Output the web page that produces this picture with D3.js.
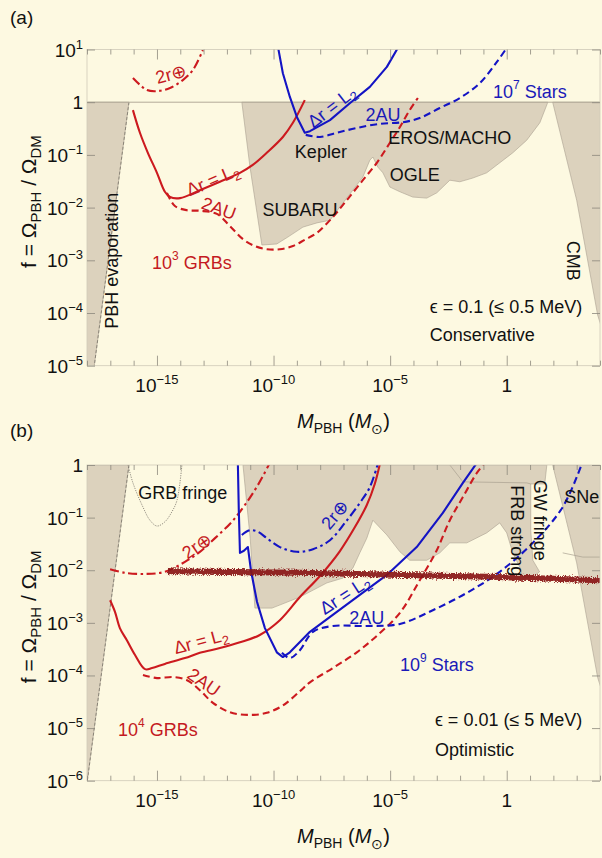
<!DOCTYPE html>
<html>
<head>
<meta charset="utf-8">
<script src="https://cdn.jsdelivr.net/npm/d3@7"></script>
<style>
  body { margin: 0; background: #fdf9e1; }
  svg { display: block; }
  text { font-family: "Liberation Sans", Arial, Helvetica, sans-serif; }
</style>
</head>
<body>
<svg id="chart" width="602" height="858"></svg>
<script>
// ---------- data: points are [log10 M/Msun, log10 f] ----------
const xTickExps = d3.range(-18, 5);
const xLabelExps = [-15, -10, -5, 0];
const yTickExpsA = [1, 0, -1, -2, -3, -4, -5];
const yTickExpsB = [0, -1, -2, -3, -4, -5, -6];

// excluded regions
const evaporation = [[-18, 0], [-16.2, 0], [-18, -6.05], [-18.5, -6.05], [-18.5, 0]];
const cmb = [[1.97, 0], [3.0, -1.86], [3.9, -4.04], [4.3, -4.6], [4.3, 0]];
const lensingA = [[-11.36, 0], [-11.01, -1.23], [-10.5, -2.71], [-9.86, -2.69], [-9.39, -2.56], [-8.74, -2.37],
  [-8.14, -2.29], [-7.58, -2.24], [-7.16, -1.99], [-6.6, -1.67], [-6.17, -1.42], [-5.87, -1.10], [-5.74, -1.04],
  [-5.53, -1.23], [-5.31, -1.34], [-5.01, -1.61], [-4.58, -1.70], [-4.03, -1.80], [-3.43, -1.82], [-3.0, -1.72],
  [-2.44, -1.48], [-2.01, -1.51], [-1.46, -1.44], [-0.86, -1.34], [-0.30, -1.15], [0.26, -0.96], [0.86, -0.72],
  [1.42, -0.39], [1.72, -0.05], [1.76, 0]];
const lensingB = [[-11.31, 0], [-11.0, -1.4], [-10.8, -2.72], [-10.07, -2.72], [-8.87, -2.51], [-7.71, -2.24],
  [-7.03, -2.15], [-6.6, -1.96], [-6.3, -1.67], [-6.0, -1.39], [-5.74, -1.05], [-5.14, -1.33], [-4.58, -1.65],
  [-4.16, -1.81], [-3.43, -1.81], [-2.87, -1.67], [-2.44, -1.48], [-1.71, -1.48], [-0.86, -1.29], [-0.30, -1.10],
  [0.0, -1.29], [0.26, -1.67], [0.56, -1.94], [0.69, -2.13], [1.12, -2.13], [1.41, -2.03], [1.12, -1.81],
  [1.03, -1.24], [1.03, -0.36], [1.63, -0.36], [1.72, 0]];
const upperBandEdge = [[-2.44, 0], [-1.88, -0.32], [0.86, -0.34], [1.03, -0.36]];
const sneEdge = [[2.40, -1.67], [3.26, -1.75], [4.0, -1.75]];
const grbFringe = [[-16.24, 0], [-16.03, -0.34], [-15.6, -0.80], [-15.3, -1.05], [-15.0, -1.16], [-14.66, -1.08],
  [-14.36, -0.89], [-14.14, -0.67], [-13.93, 0]];

// (a) conservative: 10^3 GRBs (red) and 10^7 stars (blue)
const redL2A = [[-16.03, -0.15], [-15.73, -0.58], [-15.39, -0.96], [-15.0, -1.34], [-14.66, -1.70], [-14.44, -1.80],
  [-14.01, -1.82], [-13.16, -1.67], [-12.30, -1.51], [-11.44, -1.34], [-10.89, -1.19], [-10.29, -0.96],
  [-9.60, -0.66], [-9.17, -0.39], [-8.66, 0.04]];
const red2AUA = [[-14.57, -1.72], [-14.23, -1.97], [-13.71, -2.05], [-13.16, -2.06], [-12.43, -2.12], [-11.87, -2.35],
  [-11.31, -2.60], [-10.80, -2.73], [-10.29, -2.79], [-9.73, -2.79], [-9.17, -2.73], [-8.66, -2.61], [-8.14, -2.48],
  [-7.46, -2.18], [-6.86, -1.86], [-6.17, -1.48], [-5.57, -1.15], [-5.01, -0.77], [-4.58, -0.47], [-4.16, -0.15],
  [-3.81, 0.08]];
const red2rA = [[-16.03, 0.46], [-15.73, 0.33], [-15.43, 0.23], [-15.0, 0.21], [-14.44, 0.27], [-13.89, 0.42],
  [-13.46, 0.61], [-13.03, 0.99]];
const blueL2A = [[-9.81, 1.05], [-9.60, 0.55], [-9.30, 0.10], [-9.0, -0.28], [-8.66, -0.58], [-8.44, -0.55],
  [-7.58, -0.34], [-6.73, -0.02], [-5.87, 0.29], [-5.14, 0.67], [-4.67, 1.03]];
const blue2AUA = [[-8.62, -0.62], [-8.01, -0.66], [-7.29, -0.58], [-6.43, -0.49], [-5.44, -0.41], [-4.46, -0.38],
  [-3.73, -0.30], [-2.87, -0.11], [-2.01, 0.08], [-1.16, 0.36], [-0.43, 0.76], [0.0, 1.03]];

// (b) optimistic: 10^4 GRBs (red) and 10^9 stars (blue)
const redL2B = [[-17.01, -2.57], [-16.80, -2.79], [-16.59, -3.10], [-16.29, -3.33], [-15.94, -3.61], [-15.51, -3.88],
  [-15.21, -3.86], [-14.66, -3.78], [-13.80, -3.67], [-13.16, -3.57], [-12.30, -3.48], [-11.44, -3.37],
  [-10.59, -3.23], [-9.73, -2.95], [-8.87, -2.51], [-8.01, -2.11], [-7.16, -1.64], [-6.51, -1.18], [-6.0, -0.76],
  [-5.66, -0.36], [-5.44, 0.02]];
const red2AUB = [[-15.60, -3.99], [-15.0, -4.05], [-14.31, -4.03], [-13.71, -4.09], [-13.16, -4.28], [-12.60, -4.52],
  [-11.87, -4.70], [-11.01, -4.75], [-10.29, -4.71], [-9.60, -4.57], [-8.87, -4.30], [-8.44, -4.13], [-7.46, -3.86],
  [-6.43, -3.56], [-5.53, -3.23], [-4.58, -2.81], [-3.73, -2.19], [-3.0, -1.62], [-2.44, -1.05], [-1.88, -0.61],
  [-1.28, -0.15], [-0.94, 0.04]];
const red2rB = [[-17.01, -1.98], [-16.37, -2.05], [-15.51, -2.07], [-14.66, -2.03], [-13.80, -1.84], [-13.16, -1.65],
  [-12.51, -1.39], [-11.79, -1.08], [-11.23, -0.76], [-10.67, -0.38], [-10.16, 0.04]];
const blueL2B = [[-11.53, 0.02], [-11.49, -0.86], [-11.44, -1.67], [-11.27, -1.63], [-11.1, -1.56], [-10.97, -2.0],
  [-10.71, -2.60], [-10.37, -3.10], [-9.86, -3.56], [-9.60, -3.65], [-9.30, -3.56], [-8.44, -3.17], [-7.46, -2.85],
  [-6.30, -2.47], [-5.14, -2.09], [-3.86, -1.56], [-2.74, -0.91], [-1.88, -0.34], [-1.28, 0.04]];
const blue2AUB = [[-9.64, -3.57], [-9.30, -3.67], [-8.87, -3.52], [-8.31, -3.17], [-7.46, -3.06], [-6.0, -3.06],
  [-4.58, -3.02], [-3.17, -2.76], [-1.71, -2.43], [-0.30, -2.03], [1.12, -1.48], [2.40, -0.80], [3.22, 0.02]];
const blue2rB = [[-11.36, -1.33], [-11.01, -1.24], [-10.67, -1.27], [-10.29, -1.39], [-9.73, -1.56], [-9.0, -1.65],
  [-8.31, -1.60], [-7.58, -1.43], [-6.94, -1.10], [-6.30, -0.72], [-5.87, -0.42], [-5.53, 0.02]];
const frbLimit = [[-14.53, -2.02], [-8.87, -2.05], [-0.30, -2.13], [4.0, -2.19]];

// ---------- styling ----------
const BG = "#fdf9e1", SHADE = "#dcd2bd", EDGE = "#a9a091";
const RED = "#cc1a1f", BLUE = "#1414c4", RED_TXT = "#c41a22", BLUE_TXT = "#1a1ab8", BAND = "#8a1414";
const DASH = "7,4", DASHDOT = "9,3.5,2.5,3.5";

const svg = d3.select("#chart");
svg.append("rect").attr("width", 602).attr("height", 858).attr("fill", BG);

const defs = svg.append("defs");
const grain = defs.append("filter").attr("id", "grain")
  .attr("x", "-5%").attr("y", "-200%").attr("width", "110%").attr("height", "500%");
grain.append("feTurbulence").attr("type", "fractalNoise").attr("baseFrequency", "0.9 0.7")
  .attr("numOctaves", 2).attr("seed", 4).attr("result", "noise");
grain.append("feDisplacementMap").attr("in", "SourceGraphic").attr("in2", "noise")
  .attr("scale", 6).attr("xChannelSelector", "R").attr("yChannelSelector", "G");

const x = d3.scaleLog().domain([1e-18, 1e4]).range([87, 600]);
const p10 = e => Math.pow(10, e);

function powLabel(sel, exp) {
  if (exp === 0) { sel.append("tspan").text("1"); return; }
  if (exp === 1) { sel.append("tspan").text("10"); sel.append("tspan").attr("dy", -8).attr("font-size", 13).text("1"); return; }
  sel.append("tspan").text("10");
  sel.append("tspan").attr("dy", -8).attr("font-size", 13).text("\u2212" + Math.abs(exp));
}

function drawPanel(cfg) {
  const y = d3.scaleLog().domain(cfg.yDomain).range([cfg.bottom, cfg.top]);
  const g = svg.append("g");
  const clipId = "clip-" + cfg.id;
  defs.append("clipPath").attr("id", clipId).append("rect")
    .attr("x", x.range()[0]).attr("y", cfg.top)
    .attr("width", x.range()[1] - x.range()[0]).attr("height", cfg.bottom - cfg.top);

  const px = d => x(p10(d[0])), py = d => y(p10(d[1]));
  const area = d3.line().x(px).y(py);
  const smooth = d3.line().x(px).y(py).curve(d3.curveCatmullRom.alpha(0.5));
  const plot = g.append("g").attr("clip-path", `url(#${clipId})`);

  // shaded exclusion regions
  cfg.regions.forEach(r => {
    plot.append("path").attr("d", area(r) + "Z").attr("fill", SHADE)
      .attr("stroke", EDGE).attr("stroke-width", 0.6);
  });
  // evaporation edge is dashed
  plot.append("path").attr("d", area([evaporation[1], evaporation[2]]))
    .attr("fill", "none").attr("stroke", "#6f6a60").attr("stroke-width", 0.7).attr("stroke-dasharray", "3,2");
  (cfg.edges || []).forEach(e => {
    plot.append("path").attr("d", (e.smooth ? smooth : area)(e.pts)).attr("fill", "none")
      .attr("stroke", e.color || EDGE).attr("stroke-width", e.width || 0.7)
      .attr("stroke-dasharray", e.dash || null);
  });
  if (cfg.unityLine) {
    plot.append("line").attr("x1", x.range()[0]).attr("x2", x.range()[1])
      .attr("y1", y(1)).attr("y2", y(1)).attr("stroke", "#b3aa98").attr("stroke-width", 1);
  }

  // sensitivity curves
  cfg.curves.forEach(c => {
    plot.append("path").attr("d", (c.sharp ? area : smooth)(c.pts))
      .attr("fill", "none").attr("stroke", c.color).attr("stroke-width", 2.1)
      .attr("stroke-dasharray", c.dash || null).attr("stroke-linejoin", "round");
  });
  if (cfg.band) {
    plot.append("path").attr("d", area(cfg.band)).attr("fill", "none")
      .attr("stroke", BAND).attr("stroke-width", 6).attr("opacity", 0.92).attr("filter", "url(#grain)");
  }

  // frame and ticks
  const [x0, x1] = x.range();
  g.append("rect").attr("x", x0).attr("y", cfg.top).attr("width", x1 - x0).attr("height", cfg.bottom - cfg.top)
    .attr("fill", "none").attr("stroke", "#cfcab8").attr("stroke-width", 0.8);
  const tickColor = "#8c887c";
  const major = xTickExps.filter(e => xLabelExps.includes(e)).map(p10);
  const minor = xTickExps.filter(e => !xLabelExps.includes(e)).map(p10);
  [[d3.axisBottom, cfg.bottom], [d3.axisTop, cfg.top]].forEach(([ax, ypos]) => {
    [[major, 10], [minor, 5]].forEach(([vals, len]) => {
      const a = g.append("g").attr("transform", `translate(0,${ypos})`)
        .call(ax(x).tickValues(vals).tickSize(-len).tickFormat(""));
      a.select(".domain").remove();
      a.selectAll("line").attr("stroke", tickColor).attr("stroke-width", 0.8);
    });
  });
  [[d3.axisLeft, x0], [d3.axisRight, x1]].forEach(([ax, xpos]) => {
    const a = g.append("g").attr("transform", `translate(${xpos},0)`)
      .call(ax(y).tickValues(cfg.yTicks.map(p10)).tickSize(-8).tickFormat(""));
    a.select(".domain").remove();
    a.selectAll("line").attr("stroke", tickColor).attr("stroke-width", 0.8);
  });

  // tick labels
  xLabelExps.forEach(e => {
    const t = g.append("text").attr("x", x(p10(e))).attr("y", cfg.bottom + 26)
      .attr("text-anchor", "middle").attr("font-size", 19).attr("fill", "#111");
    powLabel(t, e);
  });
  cfg.yTicks.forEach(e => {
    const t = g.append("text").attr("x", x0 - 4).attr("y", y(p10(e)) + 7)
      .attr("text-anchor", "end").attr("font-size", 19).attr("fill", "#111");
    powLabel(t, e);
  });

  // axis titles
  const xt = g.append("text").attr("x", (x0 + x1) / 2).attr("y", cfg.bottom + 62)
    .attr("text-anchor", "middle").attr("font-size", 20).attr("fill", "#111");
  if (cfg.titleClip) xt.attr("clip-path", `url(#${cfg.titleClip})`);
  xt.append("tspan").attr("font-style", "italic").text("M");
  xt.append("tspan").attr("dy", 5).attr("font-size", 14).text("PBH");
  xt.append("tspan").attr("dy", -5).text(" (");
  xt.append("tspan").attr("font-style", "italic").text("M");
  xt.append("tspan").attr("dy", 6).attr("font-size", 14).text("\u2299");
  xt.append("tspan").attr("dy", -6).text(")");

  const yt = g.append("text").attr("transform", `translate(36,${(cfg.top + cfg.bottom) / 2 - 6}) rotate(-90)`)
    .attr("text-anchor", "middle").attr("font-size", 21).attr("fill", "#111");
  yt.append("tspan").text("f = \u03A9");
  yt.append("tspan").attr("dy", 5).attr("font-size", 15).text("PBH");
  yt.append("tspan").attr("dy", -5).text(" / \u03A9");
  yt.append("tspan").attr("dy", 5).attr("font-size", 15).text("DM");

  g.append("text").attr("x", 10).attr("y", cfg.top - (cfg.id === "a" ? 26 : 28))
    .attr("font-size", 19).attr("fill", "#111").text(cfg.tag);

  // annotations, positioned in data coordinates
  cfg.notes.forEach(n => {
    const t = g.append("text")
      .attr("transform", `translate(${x(p10(n.at[0]))},${y(p10(n.at[1]))}) rotate(${n.rot || 0})`)
      .attr("text-anchor", n.anchor || "middle").attr("dominant-baseline", "central")
      .attr("font-size", n.size || 18).attr("fill", n.color || "#111");
    n.parts.forEach(p => {
      const s = t.append("tspan").text(p.t);
      if (p.sup) s.attr("dy", -7).attr("font-size", 12);
      if (p.sub) s.attr("dy", 5).attr("font-size", 13);
      if (p.back) s.attr("dy", p.back);
    });
  });
}

const L2 = [{ t: "\u0394r = L" }, { t: "2", sub: true }];

// title clip for the upper panel's x label
defs.append("clipPath").attr("id", "clip-title-a").append("rect")
  .attr("x", 0).attr("y", 380).attr("width", 602).attr("height", 54);

drawPanel({
  id: "a", tag: "(a)", top: 49.5, bottom: 365.7, yDomain: [1e-5, 10], yTicks: yTickExpsA,
  unityLine: true, titleClip: "clip-title-a",
  regions: [evaporation, lensingA, cmb],
  curves: [
    { pts: red2rA, color: RED, dash: DASHDOT },
    { pts: redL2A, color: RED },
    { pts: red2AUA, color: RED, dash: DASH },
    { pts: blueL2A, color: BLUE, sharp: true },
    { pts: blue2AUA, color: BLUE, dash: DASH }
  ],
  notes: [
    { at: [-16.93, -3.01], rot: -90, parts: [{ t: "PBH evaporation" }] },
    { at: [-13.5, -3.05], color: RED_TXT, parts: [{ t: "10" }, { t: "3", sup: true }, { t: " GRBs", back: 7 }] },
    { at: [-12.6, -1.48], rot: -23, color: RED_TXT, parts: L2 },
    { at: [-12.35, -2.02], rot: 20, color: RED_TXT, parts: [{ t: "2AU" }] },
    { at: [-14.4, 0.53], rot: -15, color: RED_TXT, parts: [{ t: "2r\u2295" }] },
    { at: [-8.87, -2.05], parts: [{ t: "SUBARU" }] },
    { at: [-7.97, -0.94], parts: [{ t: "Kepler" }] },
    { at: [-2.44, -0.68], parts: [{ t: "EROS/MACHO" }] },
    { at: [-3.94, -1.38], parts: [{ t: "OGLE" }] },
    { at: [2.83, -3.01], rot: 90, parts: [{ t: "CMB" }] },
    { at: [-7.5, -0.09], rot: -38, color: BLUE_TXT, parts: L2 },
    { at: [-5.31, -0.24], color: BLUE_TXT, parts: [{ t: "2AU" }] },
    { at: [0.99, 0.19], color: BLUE_TXT, parts: [{ t: "10" }, { t: "7", sup: true }, { t: " Stars", back: 7 }] },
    { at: [-3.3, -3.89], anchor: "start", parts: [{ t: "\u03F5 = 0.1 (\u2264 0.5 MeV)" }] },
    { at: [-3.3, -4.42], anchor: "start", parts: [{ t: "Conservative" }] }
  ]
});

drawPanel({
  id: "b", tag: "(b)", top: 465, bottom: 780.7, yDomain: [1e-6, 1], yTicks: yTickExpsB,
  regions: [evaporation, lensingB, cmb],
  edges: [
    { pts: upperBandEdge }, { pts: sneEdge },
    { pts: grbFringe, smooth: true, color: "#77726a", width: 0.8, dash: "1.2,1.2" }
  ],
  curves: [
    { pts: red2rB, color: RED, dash: DASHDOT },
    { pts: redL2B, color: RED },
    { pts: red2AUB, color: RED, dash: DASH },
    { pts: blue2rB, color: BLUE, dash: DASHDOT },
    { pts: blueL2B, color: BLUE, sharp: true },
    { pts: blue2AUB, color: BLUE, dash: DASH }
  ],
  band: frbLimit,
  notes: [
    { at: [-13.89, -0.53], parts: [{ t: "GRB fringe" }] },
    { at: [-13.29, -1.54], rot: -35, color: RED_TXT, parts: [{ t: "2r\u2295" }] },
    { at: [-13.11, -3.35], rot: -15, color: RED_TXT, parts: L2 },
    { at: [-12.99, -4.13], rot: 35, color: RED_TXT, parts: [{ t: "2AU" }] },
    { at: [-14.96, -5.04], color: RED_TXT, parts: [{ t: "10" }, { t: "4", sup: true }, { t: " GRBs", back: 7 }] },
    { at: [-7.37, -0.95], rot: -50, color: BLUE_TXT, parts: [{ t: "2r\u2295" }] },
    { at: [-6.94, -2.47], rot: -33, color: BLUE_TXT, parts: L2 },
    { at: [-6.0, -2.91], color: BLUE_TXT, parts: [{ t: "2AU" }] },
    { at: [-3.0, -3.80], color: BLUE_TXT, parts: [{ t: "10" }, { t: "9", sup: true }, { t: " Stars", back: 7 }] },
    { at: [-3.08, -4.85], anchor: "start", parts: [{ t: "\u03F5 = 0.01 (\u2264 5 MeV)" }] },
    { at: [-3.08, -5.42], anchor: "start", parts: [{ t: "Optimistic" }] },
    { at: [0.43, -1.25], rot: 90, parts: [{ t: "FRB strong" }] },
    { at: [1.42, -1.05], rot: 90, parts: [{ t: "GW fringe" }] },
    { at: [3.22, -0.61], parts: [{ t: "SNe" }] }
  ]
});
</script>
</body>
</html>
